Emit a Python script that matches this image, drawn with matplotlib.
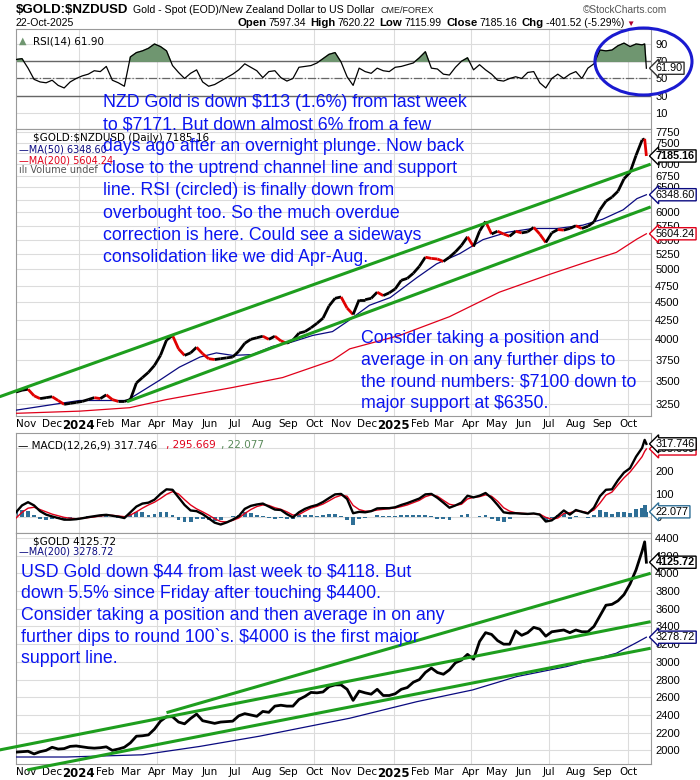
import numpy as np
import pandas as pd
import matplotlib
matplotlib.use('Agg')
import matplotlib.pyplot as plt
import matplotlib.dates as mdates
from matplotlib.collections import LineCollection
from matplotlib.patches import Ellipse

plt.rcParams['font.family'] = ['DejaVu Sans']
plt.rcParams['text.parse_math'] = False

# weekly closes (Fridays) plus the last two sessions
dates = list(pd.date_range('2023-10-20', periods=105, freq='7D')) + \
    [pd.Timestamp('2025-10-20'), pd.Timestamp('2025-10-22')]

nzd_close = [3380, 3400, 3410, 3340, 3310, 3320, 3330, 3290, 3250, 3260,
             3270, 3280, 3300, 3320, 3310, 3350, 3300, 3280, 3280, 3300,
             3480, 3540, 3600, 3680, 3800, 3990, 4050, 3880, 3800, 3830,
             3900, 3820, 3760, 3750, 3760, 3770, 3780, 3850, 3950, 4000,
             4020, 4040, 4000, 4040, 3980, 3950, 3990, 4080, 4100, 4150,
             4210, 4280, 4450, 4560, 4580, 4420, 4330, 4540, 4540, 4560,
             4650, 4600, 4640, 4700, 4830, 4860, 4940, 5050, 5200, 5180,
             5170, 5130, 5200, 5290, 5400, 5550, 5380, 5650, 5830, 5600,
             5650, 5600, 5560, 5650, 5620, 5640, 5720, 5600, 5450, 5620,
             5680, 5670, 5700, 5750, 5700, 5740, 5820, 6050, 6220, 6300,
             6420, 6680, 6820, 7200, 7560, 7590, 7185.16]

usd_close = [1980, 1985, 1990, 1960, 1985, 2000, 2035, 2015, 2020, 2045,
             2050, 2040, 2030, 2025, 2030, 2040, 2000, 2015, 2035, 2085,
             2160, 2165, 2175, 2240, 2330, 2380, 2380, 2320, 2300, 2360,
             2410, 2335, 2320, 2305, 2320, 2325, 2330, 2390, 2415, 2400,
             2385, 2440, 2430, 2500, 2510, 2500, 2500, 2575, 2610, 2655,
             2650, 2660, 2720, 2740, 2740, 2690, 2565, 2670, 2650, 2635,
             2690, 2620, 2620, 2640, 2690, 2710, 2770, 2800, 2880, 2930,
             2880, 2860, 2910, 2990, 3020, 3085, 3030, 3230, 3330, 3310,
             3240, 3200, 3200, 3350, 3300, 3330, 3390, 3370, 3290, 3340,
             3350, 3360, 3330, 3360, 3340, 3340, 3400, 3520, 3640, 3650,
             3690, 3760, 3880, 4040, 4250, 4356, 4125.72]

rsi = [72, 73, 62, 49, 46, 45, 48, 42, 39, 46,
       50, 53, 55, 59, 58, 64, 48, 45, 41, 75,
       80, 82, 85, 90, 87, 82, 65, 57, 50, 56,
       60, 46, 41, 43, 47, 51, 55, 60, 67, 63,
       59, 51, 58, 59, 51, 47, 50, 63, 64, 65,
       68, 73, 78, 80, 69, 52, 42, 62, 58, 56,
       62, 59, 58, 63, 64, 66, 68, 74, 81, 62,
       61, 55, 54, 63, 70, 74, 60, 66, 60, 55,
       48, 47, 50, 52, 50, 57, 58, 45, 39, 50,
       55, 50, 55, 58, 50, 62, 67, 83, 82, 83,
       88, 91, 87, 90, 89, 90, 61.90]

macd = [20, 50, 64, 50, 25, 10, 2, -5, -12, -12,
        -10, -6, -1, 3, 7, 9, 5, 1, -5, 20,
        45, 58, 62, 75, 100, 120, 118, 85, 52, 28,
        25, 12, -6, -25, -33, -24, -12, 3, 35, 48,
        54, 58, 45, 32, 30, 12, -2, 20, 35, 45,
        52, 65, 82, 98, 100, 78, 16, 22, 20, 25,
        37, 38, 38, 42, 52, 60, 70, 80, 98, 100,
        83, 62, 40, 50, 62, 92, 85, 92, 104, 82,
        52, 20, 16, 16, 14, 13, 15, 10, -20, -15,
        5, 28, 10, 30, 22, 15, 40, 90, 118, 120,
        160, 193, 212, 262, 300, 335, 317.746]

signal = [-5, 20, 38, 42, 32, 22, 12, 5, -2, -6,
          -8, -6, -3, 0, 4, 7, 7, 4, 1, 8,
          22, 38, 52, 64, 80, 98, 110, 100, 75, 52,
          35, 22, 8, -8, -20, -22, -15, -5, 15, 32,
          45, 52, 50, 40, 33, 22, 8, 10, 25, 38,
          46, 56, 70, 85, 94, 90, 50, 32, 25, 25,
          30, 33, 36, 39, 45, 52, 62, 72, 88, 96,
          90, 72, 55, 50, 55, 78, 85, 88, 96, 90,
          68, 40, 25, 18, 16, 14, 14, 12, -2, -10,
          -5, 15, 18, 26, 24, 18, 30, 60, 95, 108,
          140, 170, 195, 228, 262, 285, 295.669]

macd_hist = [25, 30, 26, 8, -7, -12, -10, -10, -10, -6,
             -2, 0, 2, 3, 3, 2, -2, -3, -6, 12,
             23, 20, 10, 11, 20, 22, 8, -15, -23, -24,
             -10, -10, -14, -17, -13, -2, 3, 8, 20, 16,
             9, 6, -5, -8, -3, -10, -10, 10, 10, 7,
             6, 9, 12, 13, 6, -12, -34, -10, -5, 0,
             7, 5, 2, 3, 7, 8, 8, 8, 10, 4,
             -7, -10, -15, 0, 7, 14, 0, 4, 8, -8,
             -16, -20, -9, -2, -2, -1, 1, -2, -18, -5,
             10, 13, -8, 4, -2, -3, 10, 30, 23, 12,
             20, 23, 17, 34, 38, 50, 22.077]

ma50_dates = ['2023-10-20', '2023-12-18', '2024-01-02', '2024-02-26', '2024-04-04',
              '2024-04-27', '2024-05-21', '2024-06-09', '2024-06-28', '2024-07-21',
              '2024-08-13', '2024-09-06', '2024-09-29', '2024-10-22', '2024-11-09',
              '2024-12-04', '2024-12-28', '2025-01-28', '2025-02-20', '2025-03-19',
              '2025-04-15', '2025-05-13', '2025-06-12', '2025-07-10', '2025-08-09',
              '2025-09-01', '2025-09-25', '2025-10-11', '2025-10-22']
ma50 = [3190, 3270, 3290, 3290, 3510, 3660, 3780, 3830, 3800, 3810,
        3910, 3970, 4050, 4100, 4240, 4460, 4570, 4870, 5090, 5260,
        5500, 5630, 5700, 5700, 5760, 5870, 6050, 6270, 6348.60]

ma200_dates = ['2023-10-20', '2024-01-02', '2024-02-29', '2024-04-12', '2024-06-28',
               '2024-08-25', '2024-10-22', '2024-11-11', '2025-01-08', '2025-03-07',
               '2025-05-04', '2025-07-01', '2025-08-09', '2025-09-17', '2025-10-11',
               '2025-10-22']
ma200 = [3158, 3180, 3215, 3300, 3430, 3540, 3740, 3880, 4050, 4300,
         4650, 4920, 5100, 5280, 5510, 5604.24]

usd_ma200_dates = ['2023-10-20', '2023-12-18', '2024-03-15', '2024-05-21', '2024-07-29',
                   '2024-11-11', '2025-01-28', '2025-04-03', '2025-05-24', '2025-07-21',
                   '2025-09-17', '2025-10-11', '2025-10-22']
usd_ma200 = [1925, 1925, 1950, 2045, 2160, 2363, 2550, 2683, 2833, 2946,
             3097, 3220, 3278.72]

# hand drawn trend lines (date, price)
nzd_upper = (['2023-10-01', '2025-10-27'], [3330, 7000])
nzd_lower = (['2024-02-26', '2025-10-27'], [3277, 6106])
usd_top = (['2024-04-12', '2025-10-27'], [2426, 4001])
usd_mid = (['2023-10-01', '2025-10-27'], [2005, 3454])
usd_low = (['2023-11-02', '2025-10-27'], [1779, 3154])

nzd_grid = list(range(3250, 7751, 250))
nzd_ticks = [t for t in nzd_grid if t not in (6250, 7250)]
usd_ticks = list(range(2000, 4401, 200))

note_nzd = ["NZD Gold is down $113 (1.6%) from last week",
            "to $7171. But down almost 6% from a few",
            "days ago after an overnight plunge. Now back",
            "close to the uptrend channel line and support",
            "line. RSI (circled) is finally down from",
            "overbought too. So the much overdue",
            "correction is here. Could see a sideways",
            "consolidation like we did Apr-Aug."]
note_avg = ["Consider taking a position and",
            "average in on any further dips to",
            "the round numbers: $7100 down to",
            "major support at $6350."]
note_usd = ["USD Gold down $44 from last week to $4118. But",
            "down 5.5% since Friday after touching $4400.",
            "Consider taking a position and then average in on any",
            "further dips to round 100`s. $4000 is the first major",
            "support line."]

W, H = 700, 780
GREEN = '#1e9e1e'
BLUE = '#0a14f0'
GRID = '#dcdcdc'
NAVY = '#0a0a80'
RED = '#e0001a'
SANS = 'Liberation Sans'


def fx(px):
    return px / W


def fy(py):
    return 1 - py / H


def panel(top, bottom):
    ax = fig.add_axes([fx(16), fy(bottom), fx(651) - fx(16), (bottom - top) / H])
    ax.set_xlim(pd.Timestamp('2023-10-20'), pd.Timestamp('2025-10-27 09:00'))
    for s in ax.spines.values():
        s.set_color('#9a9a9a')
        s.set_linewidth(0.8)
    ax.yaxis.tick_right()
    ax.tick_params(which='both', length=0, labelsize=8, pad=3)
    ax.grid(axis='y', which='both', color=GRID, lw=0.8)
    for q in pd.date_range('2024-01-01', '2025-10-01', freq='QS'):
        ax.axvline(q, color=GRID, lw=0.8, zorder=0)
    ax.set_axisbelow(True)
    return ax


def yfont(ax):
    for lab in ax.get_yticklabels():
        lab.set_family(SANS)


def month_labels(ax):
    months = pd.date_range('2023-11-01', '2025-10-01', freq='MS')
    ax.set_xticks(months)
    labs = [str(m.year) if m.month == 1 else m.strftime('%b') for m in months]
    ax.set_xticklabels(labs)
    ax.tick_params(axis='x', labelsize=7.5, pad=2)
    for t, m in zip(ax.get_xticklabels(), months):
        if m.month == 1:
            t.set_fontweight('bold')
            t.set_fontsize(8.5)


def tag(ax, y, text, ec, bold=False, z=10):
    ax.annotate(text, xy=(1.0, y), xycoords=('axes fraction', 'data'),
                xytext=(3.5, 0), textcoords='offset points', va='center', ha='left',
                fontsize=7.8, family=SANS,
                fontweight='bold' if bold else 'normal',
                bbox=dict(boxstyle='larrow,pad=0.1', fc='white', ec=ec, lw=1),
                annotation_clip=False, zorder=z)


def price_line(ax, d, v, up='black', down='#e00000', lw=2.0):
    x = mdates.date2num(d)
    pts = np.column_stack([x, v])
    segs = np.stack([pts[:-1], pts[1:]], axis=1)
    cols = [up if b >= a else down for a, b in zip(v[:-1], v[1:])]
    ax.add_collection(LineCollection(segs, colors=cols, linewidths=lw, zorder=4))


def trend(ax, line):
    ax.plot(pd.to_datetime(line[0]), line[1], color=GREEN, lw=2.2,
            clip_on=False, zorder=5, solid_capstyle='butt')


def text_run(px, py, pieces):
    # place text pieces one after another along a baseline
    r = fig.canvas.get_renderer()
    x = px
    for s, size, bold, color, gap in pieces:
        t = fig.text(fx(x), fy(py), s, fontsize=size, fontweight='bold' if bold else 'normal',
                     color=color, family=SANS, va='baseline')
        x = t.get_window_extent(r).x1 + gap


fig = plt.figure(figsize=(W / 100, H / 100), dpi=100)
fig.patch.set_facecolor('white')

# header
text_run(16, 13, [('$GOLD:$NZDUSD', 9.5, True, 'black', 5),
                  ('Gold - Spot (EOD)/New Zealand Dollar to US Dollar', 7.6, False, 'black', 6),
                  ('CME/FOREX', 6.5, False, '#222222', 0)])
fig.text(fx(583), fy(13), '\u00a9StockCharts.com', fontsize=7.3, color='#555555',
         family=SANS, va='baseline')
fig.text(fx(16), fy(26), '22-Oct-2025', fontsize=7.6, family=SANS, va='baseline')
text_run(237, 26, [('Open', 8.2, True, 'black', 2.5), ('7597.34', 7.5, False, 'black', 4),
                   ('High', 8.2, True, 'black', 2.5), ('7620.22', 7.5, False, 'black', 4),
                   ('Low', 8.2, True, 'black', 2.5), ('7115.99', 7.5, False, 'black', 4),
                   ('Close', 8.2, True, 'black', 2.5), ('7185.16', 7.5, False, 'black', 4),
                   ('Chg', 8.2, True, 'black', 2.5), ('-401.52 (-5.29%)', 7.5, False, 'black', 2),
                   ('\u25bc', 6, False, '#b00030', 0)])

# RSI panel
ax_rsi = panel(29, 129)
ax_rsi.set_ylim(-8.6, 107.4)
ax_rsi.set_yticks([10, 30, 50, 70, 90])
yfont(ax_rsi)
ax_rsi.tick_params(labelbottom=False)
ax_rsi.axhline(70, color='#666666', lw=1)
ax_rsi.axhline(30, color='#666666', lw=1)
ax_rsi.axhline(50, color='#666666', lw=0.9, ls='-.')
r = np.array(rsi)
ax_rsi.fill_between(dates, 70, r, where=r > 70, interpolate=True, color='#6f9670', zorder=2)
ax_rsi.plot(dates, r, color='black', lw=0.9, zorder=3)
ax_rsi.text(0.005, 0.93, '\u25b2', transform=ax_rsi.transAxes, fontsize=7, color='#6f9670', va='top')
ax_rsi.text(0.026, 0.93, 'RSI(14) 61.90', transform=ax_rsi.transAxes, fontsize=7.5, va='top')
tag(ax_rsi, rsi[-1], '61.90', '#333333')
fig.add_artist(Ellipse((fx(643.5), fy(61.5)), 97 / W, 67 / H, transform=fig.transFigure,
                       fill=False, ec='#1a1ad0', lw=2.2))

# NZD price panel
ax_p = panel(129, 416)
ax_p.set_yscale('log')
ax_p.set_ylim(3131, 7832)
ax_p.set_yticks(nzd_grid, minor=True)
ax_p.yaxis.set_minor_formatter(matplotlib.ticker.NullFormatter())
ax_p.set_yticks(nzd_ticks)
ax_p.set_yticklabels([str(t) for t in nzd_ticks])
ax_p.tick_params(which='minor', length=0)
yfont(ax_p)
month_labels(ax_p)
price_line(ax_p, dates, nzd_close)
ax_p.plot(pd.to_datetime(ma50_dates), ma50, color=NAVY, lw=0.9, zorder=3)
ax_p.plot(pd.to_datetime(ma200_dates), ma200, color=RED, lw=0.9, zorder=3)
trend(ax_p, nzd_upper)
trend(ax_p, nzd_lower)
ax_p.text(0.026, 0.985, '$GOLD:$NZDUSD (Daily) 7185.16', transform=ax_p.transAxes,
          fontsize=7.5, va='top')
ax_p.text(0.005, 0.945, '\u2014MA(50) 6348.60', transform=ax_p.transAxes, fontsize=7,
          color=NAVY, va='top')
ax_p.text(0.005, 0.909, '\u2014MA(200) 5604.24', transform=ax_p.transAxes, fontsize=7,
          color=RED, va='top')
ax_p.text(0.005, 0.873, 'ılı Volume undef', transform=ax_p.transAxes, fontsize=7,
          color='#555555', va='top')
tag(ax_p, ma200[-1], '5604.24', RED)
tag(ax_p, ma50[-1], '6348.60', NAVY)
tag(ax_p, nzd_close[-1], '7185.16', 'black', bold=True)

# MACD panel
ax_m = panel(433, 533)
ax_m.set_ylim(-70, 365)
ax_m.set_yticks([0, 100, 200])
ax_m.set_yticks([300], minor=True)
yfont(ax_m)
ax_m.tick_params(labelbottom=False)
ax_m.bar(dates, macd_hist, width=4.5, color='#2f6f96', zorder=2)
ax_m.plot(dates, signal, color=RED, lw=1, zorder=3)
ax_m.plot(dates, macd, color='black', lw=1.7, zorder=4)
ax_m.text(0.003, 0.93, '\u2014 MACD(12,26,9) 317.746', transform=ax_m.transAxes,
          fontsize=7.5, va='top')
ax_m.text(150 / 635, 0.93, ', 295.669', transform=ax_m.transAxes,
          fontsize=7.5, color=RED, va='top')
ax_m.text(205 / 635, 0.93, ', 22.077', transform=ax_m.transAxes,
          fontsize=7.5, color='#5a8a5a', va='top')
tag(ax_m, macd_hist[-1], '22.077', '#2f6f96')
tag(ax_m, signal[-1], '295.669', RED, z=9)
tag(ax_m, macd[-1], '317.746', 'black', z=11)

# USD gold panel
ax_u = panel(533, 764)
ax_u.set_ylim(1846, 4456)
ax_u.set_yticks(usd_ticks)
yfont(ax_u)
month_labels(ax_u)
ax_u.plot(dates, usd_close, color='black', lw=2.0, zorder=4)
ax_u.plot(pd.to_datetime(usd_ma200_dates), usd_ma200, color=NAVY, lw=0.9, zorder=3)
trend(ax_u, usd_top)
trend(ax_u, usd_mid)
trend(ax_u, usd_low)
ax_u.text(0.026, 0.985, '$GOLD 4125.72', transform=ax_u.transAxes, fontsize=7.5, va='top')
ax_u.text(0.005, 0.94, '\u2014MA(200) 3278.72', transform=ax_u.transAxes, fontsize=7,
          color=NAVY, va='top')
tag(ax_u, usd_ma200[-1], '3278.72', NAVY)
tag(ax_u, usd_close[-1], '4125.72', 'black', bold=True)

# blue commentary
for lines, px, py0, step in [(note_nzd, 103, 107, 22.1), (note_avg, 361, 343.3, 21.6),
                             (note_usd, 21, 576.7, 21.65)]:
    for i, s in enumerate(lines):
        fig.text(fx(px), fy(py0 + i * step), s, fontsize=12.8, color=BLUE,
                 family=SANS, va='baseline', zorder=20)

fig.savefig('out.png', dpi=100)
